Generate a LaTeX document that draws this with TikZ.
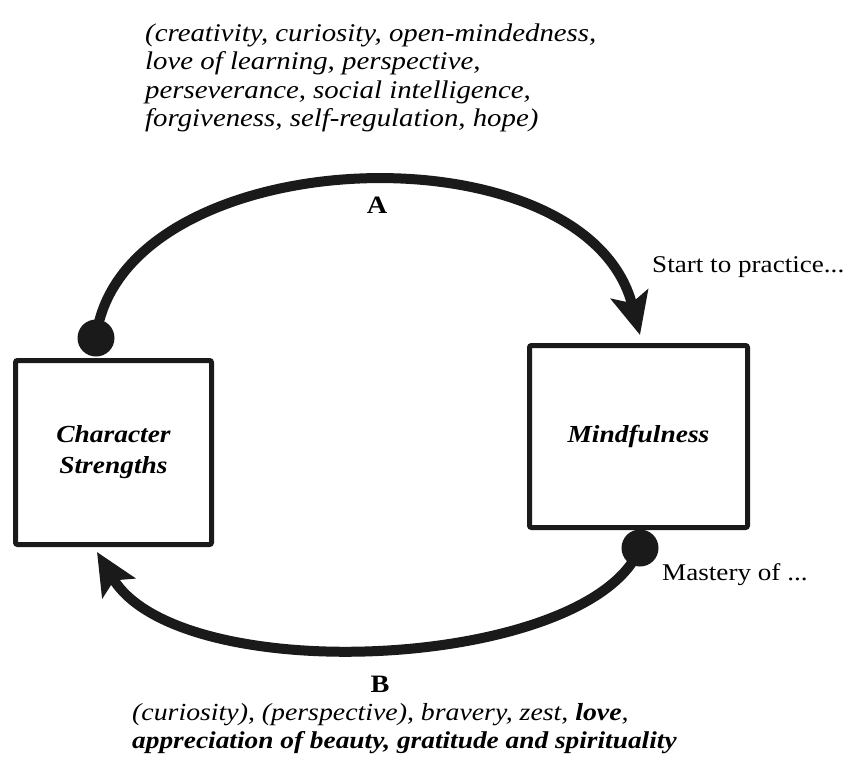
\documentclass[tikz,border=0pt]{standalone}
\usepackage{fontspec}
\setmainfont{Liberation Serif}
\usetikzlibrary{arrows.meta}
\definecolor{ink}{HTML}{1A1A1A}
\begin{document}
\begin{tikzpicture}[x=1pt,y=-1pt,
  box/.style={draw=ink, line width=5pt, rounded corners=2pt, fill=white, inner sep=0pt},
  boxtext/.style={align=center, font=\fontsize{24.5}{31}\selectfont\bfseries\itshape, inner sep=0pt, xscale=1.12},
  flow/.style={draw=ink, line width=10pt, -{Stealth[length=42pt,width=38pt,inset=9pt]}},
  dotnode/.style={circle, fill=ink, minimum size=37pt, inner sep=0pt},
  txt/.style={align=left, anchor=base west, inner sep=0pt, xscale=1.13},
  plain/.style={font=\fontsize{24}{28.5}\selectfont, anchor=base west, inner sep=0pt, xscale=1.13},
  lab/.style={font=\fontsize{25}{30}\selectfont\bfseries, anchor=base, inner sep=0pt, xscale=1.13}
]
\fill[white] (0,0) rectangle (846,758);
\useasboundingbox (0,0) rectangle (846,758);
% boxes
\node[box, minimum width=196pt, minimum height=184pt] (cs) at (113.5,452.5) {};
\node[box, minimum width=218pt, minimum height=182pt] (mf) at (638.5,436.5) {};
\node[boxtext] (cst) at (cs.center) {Character\\Strengths};
\node[boxtext] (mft) at (mf.center) {Mindfulness};
% dots
\node[dotnode] (dA) at (96,338) {};
\node[dotnode] (dB) at (640,548) {};
\coordinate (tipA) at (640,335);
\coordinate (tipB) at (97,552);
% arcs
\draw[flow] (dA.center) .. controls (120,140) and (585,122) .. (tipA);
\draw[flow] (dB.center) .. controls (590,670) and (180,690) .. (tipB);
% labels
\node[lab] (la) at (377,213) {A};
\node[lab] (lb) at (380,692) {B};
\node[plain] (start) at (652,272.5) {Start to practice...};
\node[plain] (mast) at (662,580) {Mastery of ...};
\node[txt, font=\fontsize{25.5}{28.3}\selectfont\itshape] (top) at (145,126.5) {(creativity, curiosity, open-mindedness,\\love of learning, perspective,\\perseverance, social intelligence,\\forgiveness, self-regulation, hope)};
\node[txt, font=\fontsize{24.6}{28}\selectfont\itshape] (bot) at (132,748) {(curiosity), (perspective), bravery, zest, \textbf{love},\\{\fontsize{24.2}{28}\selectfont\bfseries appreciation of beauty, gratitude and spirituality}};
\end{tikzpicture}
\end{document}
